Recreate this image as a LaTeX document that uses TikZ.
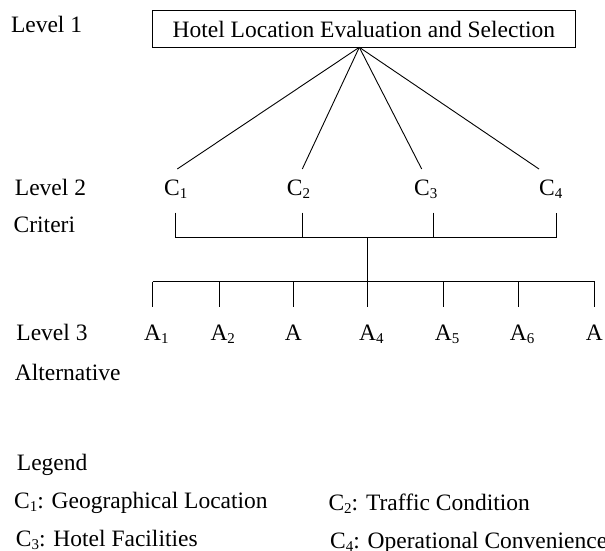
\documentclass[tikz,border=0pt]{standalone}
\usepackage{fontspec}
\setmainfont{Liberation Serif}
\newcommand{\mysub}[1]{\raisebox{-3pt}{\fontsize{15}{15}\selectfont #1}}
\begin{document}
\begin{tikzpicture}[x=1pt,y=1pt,
  txt/.style={inner sep=0pt,anchor=base west,font=\fontsize{23.5}{28}\selectfont},
  alt/.style={inner sep=0pt,anchor=base,font=\fontsize{23.5}{28}\selectfont},
  conn/.style={line width=0.9pt}]
\useasboundingbox (0,0) rectangle (605,-551);
% Level 1
\node[txt] (l1) at (10.8,-33) {Level 1};
\node[draw,line width=0.9pt,inner sep=0pt,minimum width=422.3pt,minimum height=36.6pt,
      font=\fontsize{23.5}{28}\selectfont] (goal) at (363.85,-29) {Hotel Location Evaluation and Selection};
\coordinate (apex) at (359.3,-47.3);
% Level 2
\node[txt] (l2) at (14.7,-195) {Level 2};
\node[txt] (cr) at (13.5,-232) {Criteri};
\node[txt] (c1) at (164,-195) {C\mysub{1}};
\node[txt] (c2) at (286.7,-195) {C\mysub{2}};
\node[txt] (c3) at (414,-195) {C\mysub{3}};
\node[txt] (c4) at (539,-195) {C\mysub{4}};
\coordinate (t1) at (177.3,-169);
\coordinate (t2) at (302.3,-169);
\coordinate (t3) at (421.7,-169);
\coordinate (t4) at (539,-169);
\foreach \i in {1,...,4} \draw[conn] (apex) -- (t\i);
% criteria bracket
\coordinate (b1) at (175.7,-212.7);
\coordinate (b2) at (302.3,-212.7);
\coordinate (b3) at (433.7,-212.7);
\coordinate (b4) at (556.3,-212.7);
\coordinate (h1) at (175.7,-237.7);
\coordinate (h2) at (302.3,-237.7);
\coordinate (h3) at (433.7,-237.7);
\coordinate (h4) at (556.3,-237.7);
\coordinate (hm) at (367.6,-237.7);
\coordinate (lm) at (367.6,-281.7);
\draw[conn] (b1) -- (h1) -- (h4) -- (b4);
\draw[conn] (b2) -- (h2);
\draw[conn] (b3) -- (h3);
\draw[conn] (hm) -- (lm);
% alternatives bracket
\coordinate (la) at (152.7,-281.7);
\coordinate (lz) at (595,-281.7);
\draw[conn] (la) -- (lz);
\foreach \n/\x in {1/152.7,2/219,3/293.3,4/367.6,5/443.3,6/518.3,7/594.3}{
  \coordinate (u\n) at (\x,-281.7);
  \coordinate (d\n) at (\x,-306.7);
  \draw[conn] (u\n) -- (d\n);
}
% Level 3
\node[txt] (l3) at (16.2,-340) {Level 3};
\node[txt] (al) at (14.7,-380) {Alternative};
\node[alt] (a1) at (152.7,-340) {A\rlap{\mysub{1}}};
\node[alt] (a2) at (219,-340) {A\rlap{\mysub{2}}};
\node[alt] (a3) at (293.3,-340) {A};
\node[alt] (a4) at (367.6,-340) {A\rlap{\mysub{4}}};
\node[alt] (a5) at (443.3,-340) {A\rlap{\mysub{5}}};
\node[alt] (a6) at (518.3,-340) {A\rlap{\mysub{6}}};
\node[alt] (a7) at (594.3,-340) {A};
% Legend
\node[txt] (lg) at (16.7,-470) {Legend};
\node[txt] (g1) at (14,-508.3) {C\mysub{1}: Geographical Location};
\node[txt] (g2) at (328.3,-510) {C\mysub{2}: Traffic Condition};
\node[txt] (g3) at (15.7,-546) {C\mysub{3}: Hotel Facilities};
\node[txt] (g4) at (330,-548) {C\mysub{4}: Operational Convenience};
\end{tikzpicture}
\end{document}
